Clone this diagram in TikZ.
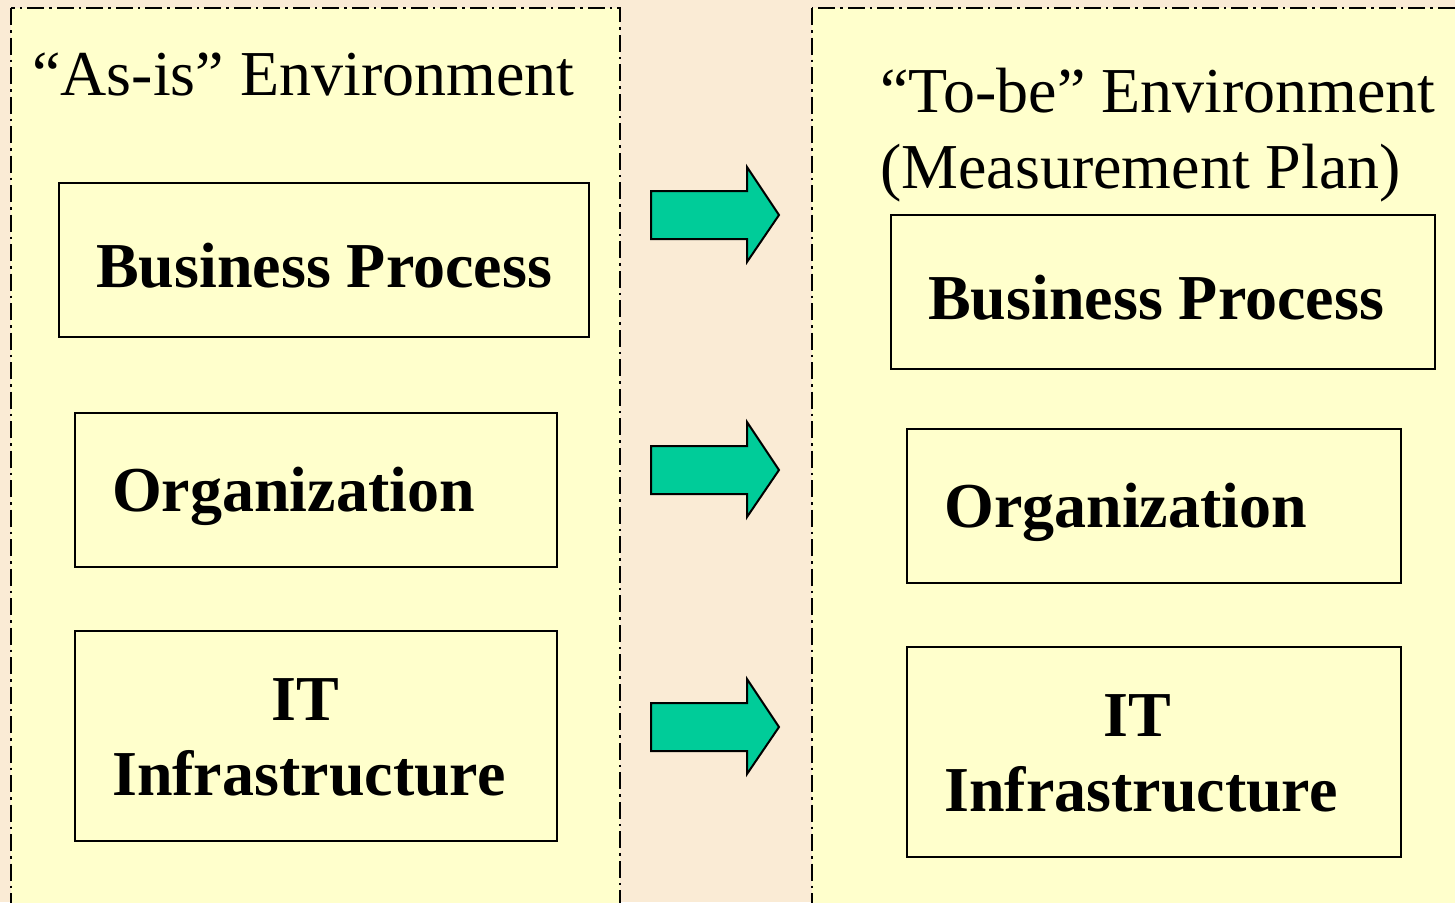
\documentclass[tikz,border=0pt]{standalone}
\usepackage{fontspec}
\setmainfont{Liberation Serif}
\definecolor{bgbeige}{HTML}{FAEBD5}
\definecolor{panelyellow}{HTML}{FFFFCC}
\definecolor{arrowgreen}{HTML}{00CC99}
\begin{document}
\begin{tikzpicture}[x=1pt,y=-1pt,
  panel/.style={fill=panelyellow,draw=black,line width=2pt,dash pattern=on 17pt off 5pt on 2.5pt off 5pt},
  box/.style={draw=black,line width=2pt,fill=panelyellow},
  title/.style={font=\fontsize{64}{76}\selectfont,anchor=base west,inner sep=0pt},
  label/.style={font=\fontsize{64}{76}\selectfont\bfseries,inner sep=0pt},
  bigarrow/.style={fill=arrowgreen,draw=black,line width=2pt,line join=miter}]
\useasboundingbox (0,0) rectangle (1455,902);
\fill[bgbeige] (0,0) rectangle (1455,902);
% panels
\draw[panel] (11,8) rectangle (620,920);
\draw[panel] (812,8) rectangle (1475,920);
% titles
\node[title] (ttl) at (32,95) {“As-is” Environment};
\node[title] (ttr1) at (880,112) {“To-be” Environment};
\node[title] (ttr2) at (880,188) {(Measurement Plan)};
% left boxes
\draw[box] (59,183) rectangle (589,337);
\draw[box] (75,413) rectangle (557,567);
\draw[box] (75,631) rectangle (557,841);
% right boxes
\draw[box] (891,215) rectangle (1435,369);
\draw[box] (907,429) rectangle (1401,583);
\draw[box] (907,647) rectangle (1401,857);
% left labels
\node[label,anchor=base west] (lbp) at (96,287) {Business Process};
\node[label,anchor=base west] (lorg) at (112,511) {Organization};
\node[label,anchor=base] (lit1) at (305,720) {IT};
\node[label,anchor=base west] (lit2) at (112,795) {Infrastructure};
% right labels
\node[label,anchor=base west] (rbp) at (928,319) {Business Process};
\node[label,anchor=base west] (rorg) at (944,527) {Organization};
\node[label,anchor=base] (rit1) at (1137,736) {IT};
\node[label,anchor=base west] (rit2) at (944,811) {Infrastructure};
% arrows
\foreach \dy in {0,255,512}{
  \draw[bigarrow] (651,191+\dy) -- (747,191+\dy) -- (747,167+\dy) -- (779,215+\dy)
    -- (747,262+\dy) -- (747,239+\dy) -- (651,239+\dy) -- cycle;
}
\end{tikzpicture}
\end{document}
